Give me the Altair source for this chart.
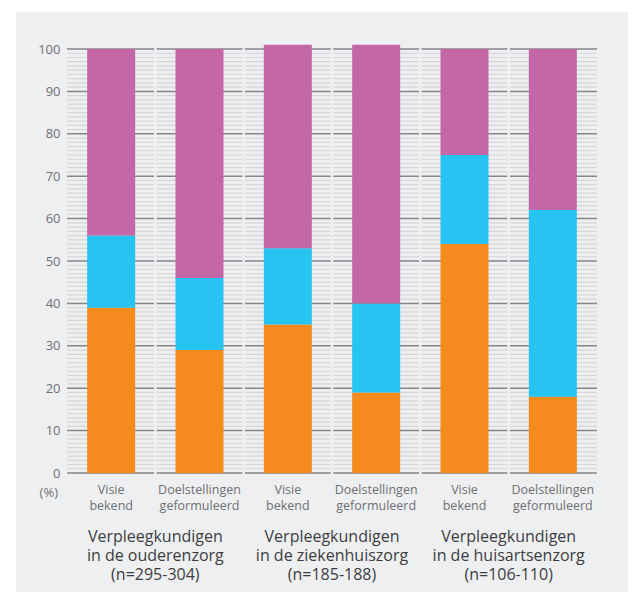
import altair as alt
import pandas as pd

# ---- data ----
categories = ["Visie|bekend|1", "Doelstellingen|geformuleerd|1",
              "Visie|bekend|2", "Doelstellingen|geformuleerd|2",
              "Visie|bekend|3", "Doelstellingen|geformuleerd|3"]
orange_vals = [39, 29, 35, 19, 54, 18]
cyan_vals = [17, 17, 18, 21, 21, 44]
magenta_vals = [44, 54, 48, 61, 25, 38]
series = ["oranje", "blauw", "paars"]
series_colors = ["#f58a1f", "#27c4f1", "#c467a6"]

group_titles = ["Verpleegkundigen\nin de ouderenzorg\n(n=295-304)",
                "Verpleegkundigen\nin de ziekenhuiszorg\n(n=185-188)",
                "Verpleegkundigen\nin de huisartsenzorg\n(n=106-110)"]
group_anchor = ["Doelstellingen|geformuleerd|1", "Doelstellingen|geformuleerd|2",
                "Doelstellingen|geformuleerd|3"]
major_ticks = [0, 10, 20, 30, 40, 50, 60, 70, 80, 90, 100]
minor_ticks = [v for v in range(0, 101) if v not in major_ticks]
gap_cats = categories[1:]

BG = "#eeeff1"
LABEL = "#6f7073"
W, H = 530, 424

rows = []
for i, c in enumerate(categories):
    for j, (s, vals) in enumerate(zip(series, [orange_vals, cyan_vals, magenta_vals])):
        rows.append({"cat": c, "serie": s, "order": j, "value": vals[i]})
df = pd.DataFrame(rows)

xscale = alt.Scale(domain=categories, paddingInner=0, paddingOuter=0)
yscale = alt.Scale(domain=[0, 100], nice=False)

xaxis = alt.Axis(labelExpr="slice(split(datum.value, '|'), 0, 2)",
                 labelAngle=0, ticks=False, tickSize=0, domain=False,
                 grid=False, labelPadding=10, labelFontSize=12.5,
                 labelLineHeight=16, labelColor=LABEL, zindex=1, title=None)
yaxis = alt.Axis(values=major_ticks, grid=False, domain=False, ticks=False,
                 tickSize=0, labelPadding=7, labelFontSize=13,
                 labelColor=LABEL, zindex=1, title=None)

bg = alt.Chart(pd.DataFrame({"a": [0]})).mark_rect(color=BG).encode(
    x=alt.value(-51), x2=alt.value(561), y=alt.value(-37), y2=alt.value(543))

minor = alt.Chart(pd.DataFrame({"value": minor_ticks})).mark_rule(
    color="#d5d6d8", strokeWidth=1.2).encode(
    y=alt.Y("value:Q", scale=yscale, axis=yaxis), x=alt.value(0), x2=alt.value(W))

major = alt.Chart(pd.DataFrame({"value": major_ticks})).mark_rule(
    color="#85868a", strokeWidth=1.5).encode(
    y=alt.Y("value:Q", scale=yscale, axis=yaxis), x=alt.value(0), x2=alt.value(W))

gaps = alt.Chart(pd.DataFrame({"cat": gap_cats})).mark_rule(
    color=BG, strokeWidth=2.5).encode(
    x=alt.X("cat:N", bandPosition=0, scale=xscale, axis=xaxis),
    y=alt.value(-1), y2=alt.value(H + 1))

bars = alt.Chart(df).mark_bar(size=48).encode(
    x=alt.X("cat:N", scale=xscale, axis=xaxis),
    y=alt.Y("value:Q", stack="zero", scale=yscale, axis=yaxis),
    color=alt.Color("serie:N", scale=alt.Scale(domain=series, range=series_colors),
                    legend=None),
    order=alt.Order("order:Q"),
)

gtext = alt.Chart(pd.DataFrame({"cat": group_anchor, "t": group_titles})).mark_text(
    lineBreak="\n", fontSize=16, color="#3d3d3f", baseline="alphabetic",
    lineHeight=19, align="center").encode(
    x=alt.X("cat:N", bandPosition=0, scale=xscale, axis=xaxis),
    y=alt.value(493), text="t:N")

pct = alt.Chart(pd.DataFrame({"t": ["(%)"]})).mark_text(
    fontSize=13, color=LABEL, align="right", baseline="alphabetic").encode(
    x=alt.value(-9), y=alt.value(448), text="t:N")

chart = alt.layer(bg, minor, major, gaps, bars, gtext, pct).properties(
    width=W, height=H,
    autosize=alt.AutoSizeParams(type="none"),
    padding={"left": 59, "top": 41, "right": 31, "bottom": 119},
    background="white",
).configure(font="Open Sans").configure_view(stroke=None)

chart.save("out.html", embed_options={"renderer": "svg", "actions": False})
